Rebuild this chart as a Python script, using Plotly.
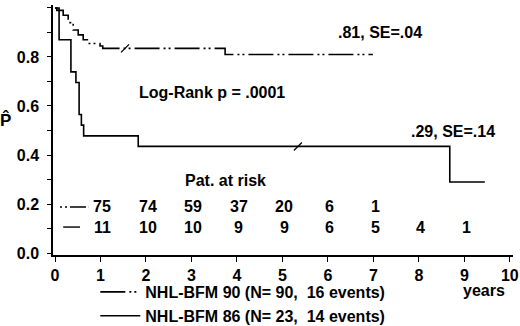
import plotly.graph_objects as go

# ---- data ----
t90 = [0, 0.04, 0.18, 0.29, 0.40, 0.51, 0.62, 0.73, 0.99, 1.05, 3.74, 6.99]
s90 = [1.0, 0.99, 0.97, 0.94, 0.91, 0.89, 0.87, 0.855, 0.845, 0.835, 0.81, 0.81]
t86 = [0, 0.09, 0.35, 0.46, 0.53, 0.58, 0.63, 1.83, 8.68, 9.45]
s86 = [1.0, 0.870, 0.739, 0.696, 0.565, 0.522, 0.478, 0.435, 0.290, 0.290]
cens90_t = [1.54]
cens90_s = [0.835]
cens86_t = [5.34]
cens86_s = [0.435]

risk_years = [1, 2, 3, 4, 5, 6, 7, 8, 9]
risk90 = [75, 74, 59, 37, 20, 6, 1]
risk86 = [11, 10, 10, 9, 9, 6, 5, 4, 1]

name90 = "NHL-BFM 90 (N= 90,\u00a0 16 events)"
name86 = "NHL-BFM 86 (N= 23,\u00a0 14 events)"
dash90 = "25px,4px,2px,3px,2px,4px"

FONT = "Liberation Sans, Arial, sans-serif"

fig = go.Figure()
fig.add_trace(go.Scatter(x=t90, y=s90, mode="lines", line_shape="hv",
                         line=dict(color="black", width=1.6, dash=dash90),
                         name=name90))
fig.add_trace(go.Scatter(x=t86, y=s86, mode="lines", line_shape="hv",
                         line=dict(color="black", width=1.6),
                         name=name86))
fig.add_trace(go.Scatter(x=cens90_t + cens86_t, y=cens90_s + cens86_s, mode="markers",
                         marker=dict(symbol="line-ne", size=8, line=dict(color="black", width=1.3)),
                         showlegend=False, hoverinfo="skip"))

ann = []
def txt(x, y, s, xref="x", yref="y", size=16, xanchor="center"):
    ann.append(dict(x=x, y=y, xref=xref, yref=yref, text=s, showarrow=False,
                    xanchor=xanchor, yanchor="middle",
                    font=dict(family=FONT, size=size, color="black", weight="bold")))

txt(7.14, 0.898, ".81, SE=.04")
txt(8.76, 0.494, ".29, SE=.14")
txt(3.46, 0.653, "Log-Rank p = .0001")
txt(3.74, 0.294, "Pat. at risk")
for yr, v in zip(risk_years, risk90):
    txt(yr + 0.04, 0.188, str(v))
for yr, v in zip(risk_years, risk86):
    txt(yr + 0.04, 0.106, str(v))
txt(0.937, -0.142, "years", xref="paper", yref="paper")
txt(-0.104, 0.54, "P\u0302", xref="paper", yref="paper", size=17)

shapes = [
    dict(type="line", xref="x", yref="y", x0=0.11, x1=0.73, y0=0.188, y1=0.188,
         line=dict(color="black", width=1.4, dash="2px,3px,2px,3px,16px")),
    dict(type="line", xref="x", yref="y", x0=0.18, x1=0.55, y0=0.106, y1=0.106,
         line=dict(color="black", width=1.4)),
]

fig.update_layout(
    width=520, height=326,
    margin=dict(l=53, r=7, t=5, b=71, autoexpand=False),
    plot_bgcolor="white", paper_bgcolor="white",
    font=dict(family=FONT, size=16, color="black", weight="bold"),
    annotations=ann, shapes=shapes,
    showlegend=True,
    legend=dict(x=0.092, y=-0.08, xanchor="left", yanchor="top",
                bgcolor="rgba(0,0,0,0)", tracegroupgap=0, itemwidth=40,
                font=dict(family=FONT, size=16, color="black", weight="bold")),
    xaxis=dict(range=[-0.044, 10.07], tickmode="linear", tick0=0, dtick=1,
               showgrid=False, zeroline=False, showline=True, linecolor="black",
               linewidth=1.5, ticks="outside", ticklen=5, tickwidth=1.3, tickcolor="black",
               tickfont=dict(family=FONT, size=16, color="black", weight="bold")),
    yaxis=dict(range=[-0.008, 1.012], tickmode="linear", tick0=0, dtick=0.2,
               tickformat=".1f", ticklabelstandoff=5,
               showgrid=False, zeroline=False, showline=True, linecolor="black",
               linewidth=1.5, ticks="outside", ticklen=4, tickwidth=1.3, tickcolor="black",
               minor=dict(dtick=0.1, ticks="outside", ticklen=4, tickcolor="black", tickwidth=1.3),
               tickfont=dict(family=FONT, size=16, color="black", weight="bold")),
)

fig.write_html("out.html", config={"displayModeBar": False},
               post_script="document.body.style.margin='0';document.body.style.overflow='hidden';")
